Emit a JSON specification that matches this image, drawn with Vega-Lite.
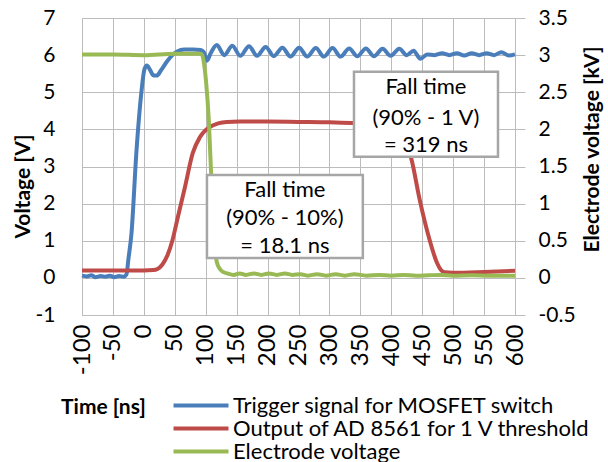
{
  "$schema": "https://vega.github.io/schema/vega-lite/v6.json",
  "width": 433,
  "height": 297,
  "autosize": {"type": "none"},
  "padding": {"left": 82, "top": 18, "right": 93, "bottom": 147},
  "background": "white",
  "config": {
    "view": {"stroke": null},
    "font": "Lato",
    "axis": {
      "labelFont": "Lato", "labelFontSize": 21, "labelColor": "#000000",
      "titleFont": "Lato", "titleFontSize": 21, "titleFontWeight": "bold", "titleColor": "#000000",
      "gridColor": "#bcbcbc", "gridWidth": 1, "domainColor": "#bcbcbc", "domainWidth": 1, "tickColor": "#bcbcbc"
    }
  },
  "datasets": {
    "lines": [
      {"t": -100, "v": 0.06, "s": "Trigger signal for MOSFET switch"},
      {"t": -92, "v": 0.04, "s": "Trigger signal for MOSFET switch"},
      {"t": -85, "v": 0.07, "s": "Trigger signal for MOSFET switch"},
      {"t": -78, "v": 0.02, "s": "Trigger signal for MOSFET switch"},
      {"t": -70, "v": 0.05, "s": "Trigger signal for MOSFET switch"},
      {"t": -62, "v": 0.03, "s": "Trigger signal for MOSFET switch"},
      {"t": -55, "v": 0.06, "s": "Trigger signal for MOSFET switch"},
      {"t": -48, "v": 0.02, "s": "Trigger signal for MOSFET switch"},
      {"t": -40, "v": 0.05, "s": "Trigger signal for MOSFET switch"},
      {"t": -33, "v": 0.03, "s": "Trigger signal for MOSFET switch"},
      {"t": -28, "v": 0.1, "s": "Trigger signal for MOSFET switch"},
      {"t": -25, "v": 0.5, "s": "Trigger signal for MOSFET switch"},
      {"t": -20, "v": 1.2, "s": "Trigger signal for MOSFET switch"},
      {"t": -12, "v": 3.4, "s": "Trigger signal for MOSFET switch"},
      {"t": -4, "v": 5.0, "s": "Trigger signal for MOSFET switch"},
      {"t": 1, "v": 5.62, "s": "Trigger signal for MOSFET switch"},
      {"t": 5, "v": 5.72, "s": "Trigger signal for MOSFET switch"},
      {"t": 10, "v": 5.6, "s": "Trigger signal for MOSFET switch"},
      {"t": 16, "v": 5.45, "s": "Trigger signal for MOSFET switch"},
      {"t": 21, "v": 5.45, "s": "Trigger signal for MOSFET switch"},
      {"t": 28, "v": 5.6, "s": "Trigger signal for MOSFET switch"},
      {"t": 37, "v": 5.82, "s": "Trigger signal for MOSFET switch"},
      {"t": 46, "v": 6.0, "s": "Trigger signal for MOSFET switch"},
      {"t": 54, "v": 6.1, "s": "Trigger signal for MOSFET switch"},
      {"t": 65, "v": 6.15, "s": "Trigger signal for MOSFET switch"},
      {"t": 80, "v": 6.15, "s": "Trigger signal for MOSFET switch"},
      {"t": 92, "v": 6.14, "s": "Trigger signal for MOSFET switch"},
      {"t": 97, "v": 6.08, "s": "Trigger signal for MOSFET switch"},
      {"t": 102, "v": 5.85, "s": "Trigger signal for MOSFET switch"},
      {"t": 108, "v": 6.05, "s": "Trigger signal for MOSFET switch"},
      {"t": 118, "v": 6.27, "s": "Trigger signal for MOSFET switch"},
      {"t": 130, "v": 6.0, "s": "Trigger signal for MOSFET switch"},
      {"t": 143, "v": 6.25, "s": "Trigger signal for MOSFET switch"},
      {"t": 156, "v": 5.98, "s": "Trigger signal for MOSFET switch"},
      {"t": 170, "v": 6.24, "s": "Trigger signal for MOSFET switch"},
      {"t": 183, "v": 5.98, "s": "Trigger signal for MOSFET switch"},
      {"t": 197, "v": 6.22, "s": "Trigger signal for MOSFET switch"},
      {"t": 210, "v": 5.97, "s": "Trigger signal for MOSFET switch"},
      {"t": 224, "v": 6.2, "s": "Trigger signal for MOSFET switch"},
      {"t": 237, "v": 5.96, "s": "Trigger signal for MOSFET switch"},
      {"t": 251, "v": 6.2, "s": "Trigger signal for MOSFET switch"},
      {"t": 264, "v": 5.96, "s": "Trigger signal for MOSFET switch"},
      {"t": 278, "v": 6.19, "s": "Trigger signal for MOSFET switch"},
      {"t": 291, "v": 5.96, "s": "Trigger signal for MOSFET switch"},
      {"t": 305, "v": 6.19, "s": "Trigger signal for MOSFET switch"},
      {"t": 318, "v": 5.96, "s": "Trigger signal for MOSFET switch"},
      {"t": 332, "v": 6.18, "s": "Trigger signal for MOSFET switch"},
      {"t": 345, "v": 5.97, "s": "Trigger signal for MOSFET switch"},
      {"t": 359, "v": 6.18, "s": "Trigger signal for MOSFET switch"},
      {"t": 372, "v": 5.97, "s": "Trigger signal for MOSFET switch"},
      {"t": 386, "v": 6.17, "s": "Trigger signal for MOSFET switch"},
      {"t": 399, "v": 5.98, "s": "Trigger signal for MOSFET switch"},
      {"t": 413, "v": 6.17, "s": "Trigger signal for MOSFET switch"},
      {"t": 425, "v": 6.0, "s": "Trigger signal for MOSFET switch"},
      {"t": 436, "v": 6.12, "s": "Trigger signal for MOSFET switch"},
      {"t": 447, "v": 5.9, "s": "Trigger signal for MOSFET switch"},
      {"t": 458, "v": 6.02, "s": "Trigger signal for MOSFET switch"},
      {"t": 470, "v": 6.0, "s": "Trigger signal for MOSFET switch"},
      {"t": 482, "v": 6.05, "s": "Trigger signal for MOSFET switch"},
      {"t": 494, "v": 6.0, "s": "Trigger signal for MOSFET switch"},
      {"t": 506, "v": 6.05, "s": "Trigger signal for MOSFET switch"},
      {"t": 518, "v": 5.99, "s": "Trigger signal for MOSFET switch"},
      {"t": 530, "v": 6.05, "s": "Trigger signal for MOSFET switch"},
      {"t": 542, "v": 6.0, "s": "Trigger signal for MOSFET switch"},
      {"t": 554, "v": 6.05, "s": "Trigger signal for MOSFET switch"},
      {"t": 566, "v": 6.0, "s": "Trigger signal for MOSFET switch"},
      {"t": 578, "v": 6.08, "s": "Trigger signal for MOSFET switch"},
      {"t": 590, "v": 5.99, "s": "Trigger signal for MOSFET switch"},
      {"t": 600, "v": 6.02, "s": "Trigger signal for MOSFET switch"},
      {"t": -100, "v": 0.2, "s": "Output of AD 8561 for 1 V threshold"},
      {"t": -50, "v": 0.2, "s": "Output of AD 8561 for 1 V threshold"},
      {"t": 0, "v": 0.2, "s": "Output of AD 8561 for 1 V threshold"},
      {"t": 15, "v": 0.21, "s": "Output of AD 8561 for 1 V threshold"},
      {"t": 22, "v": 0.24, "s": "Output of AD 8561 for 1 V threshold"},
      {"t": 30, "v": 0.36, "s": "Output of AD 8561 for 1 V threshold"},
      {"t": 38, "v": 0.6, "s": "Output of AD 8561 for 1 V threshold"},
      {"t": 46, "v": 1.0, "s": "Output of AD 8561 for 1 V threshold"},
      {"t": 55, "v": 1.64, "s": "Output of AD 8561 for 1 V threshold"},
      {"t": 66.5, "v": 2.45, "s": "Output of AD 8561 for 1 V threshold"},
      {"t": 79, "v": 3.36, "s": "Output of AD 8561 for 1 V threshold"},
      {"t": 91, "v": 3.8, "s": "Output of AD 8561 for 1 V threshold"},
      {"t": 107, "v": 4.07, "s": "Output of AD 8561 for 1 V threshold"},
      {"t": 120, "v": 4.16, "s": "Output of AD 8561 for 1 V threshold"},
      {"t": 134, "v": 4.2, "s": "Output of AD 8561 for 1 V threshold"},
      {"t": 155, "v": 4.21, "s": "Output of AD 8561 for 1 V threshold"},
      {"t": 200, "v": 4.21, "s": "Output of AD 8561 for 1 V threshold"},
      {"t": 250, "v": 4.2, "s": "Output of AD 8561 for 1 V threshold"},
      {"t": 300, "v": 4.19, "s": "Output of AD 8561 for 1 V threshold"},
      {"t": 336, "v": 4.17, "s": "Output of AD 8561 for 1 V threshold"},
      {"t": 380, "v": 4.16, "s": "Output of AD 8561 for 1 V threshold"},
      {"t": 405, "v": 4.14, "s": "Output of AD 8561 for 1 V threshold"},
      {"t": 413, "v": 4.05, "s": "Output of AD 8561 for 1 V threshold"},
      {"t": 420, "v": 3.8, "s": "Output of AD 8561 for 1 V threshold"},
      {"t": 433, "v": 3.17, "s": "Output of AD 8561 for 1 V threshold"},
      {"t": 446, "v": 2.1, "s": "Output of AD 8561 for 1 V threshold"},
      {"t": 462, "v": 1.02, "s": "Output of AD 8561 for 1 V threshold"},
      {"t": 474, "v": 0.4, "s": "Output of AD 8561 for 1 V threshold"},
      {"t": 480, "v": 0.22, "s": "Output of AD 8561 for 1 V threshold"},
      {"t": 486, "v": 0.15, "s": "Output of AD 8561 for 1 V threshold"},
      {"t": 500, "v": 0.14, "s": "Output of AD 8561 for 1 V threshold"},
      {"t": 550, "v": 0.16, "s": "Output of AD 8561 for 1 V threshold"},
      {"t": 600, "v": 0.19, "s": "Output of AD 8561 for 1 V threshold"}
    ],
    "electrode": [
      {"t": -100, "kv": 3.01, "s": "Electrode voltage"},
      {"t": -50, "kv": 3.01, "s": "Electrode voltage"},
      {"t": 0, "kv": 3.0, "s": "Electrode voltage"},
      {"t": 50, "kv": 3.02, "s": "Electrode voltage"},
      {"t": 90, "kv": 3.02, "s": "Electrode voltage"},
      {"t": 94, "kv": 3.01, "s": "Electrode voltage"},
      {"t": 97, "kv": 2.9, "s": "Electrode voltage"},
      {"t": 101, "kv": 2.6, "s": "Electrode voltage"},
      {"t": 105, "kv": 2.12, "s": "Electrode voltage"},
      {"t": 108.5, "kv": 1.45, "s": "Electrode voltage"},
      {"t": 112, "kv": 0.85, "s": "Electrode voltage"},
      {"t": 115, "kv": 0.42, "s": "Electrode voltage"},
      {"t": 118, "kv": 0.21, "s": "Electrode voltage"},
      {"t": 123, "kv": 0.12, "s": "Electrode voltage"},
      {"t": 128, "kv": 0.08, "s": "Electrode voltage"},
      {"t": 135, "kv": 0.06, "s": "Electrode voltage"},
      {"t": 145, "kv": 0.04, "s": "Electrode voltage"},
      {"t": 155, "kv": 0.06, "s": "Electrode voltage"},
      {"t": 165, "kv": 0.04, "s": "Electrode voltage"},
      {"t": 178, "kv": 0.06, "s": "Electrode voltage"},
      {"t": 190, "kv": 0.04, "s": "Electrode voltage"},
      {"t": 202, "kv": 0.06, "s": "Electrode voltage"},
      {"t": 215, "kv": 0.04, "s": "Electrode voltage"},
      {"t": 228, "kv": 0.06, "s": "Electrode voltage"},
      {"t": 240, "kv": 0.04, "s": "Electrode voltage"},
      {"t": 253, "kv": 0.05, "s": "Electrode voltage"},
      {"t": 265, "kv": 0.03, "s": "Electrode voltage"},
      {"t": 280, "kv": 0.05, "s": "Electrode voltage"},
      {"t": 295, "kv": 0.03, "s": "Electrode voltage"},
      {"t": 310, "kv": 0.05, "s": "Electrode voltage"},
      {"t": 325, "kv": 0.03, "s": "Electrode voltage"},
      {"t": 340, "kv": 0.05, "s": "Electrode voltage"},
      {"t": 360, "kv": 0.03, "s": "Electrode voltage"},
      {"t": 380, "kv": 0.04, "s": "Electrode voltage"},
      {"t": 400, "kv": 0.03, "s": "Electrode voltage"},
      {"t": 420, "kv": 0.04, "s": "Electrode voltage"},
      {"t": 440, "kv": 0.03, "s": "Electrode voltage"},
      {"t": 460, "kv": 0.035, "s": "Electrode voltage"},
      {"t": 480, "kv": 0.04, "s": "Electrode voltage"},
      {"t": 500, "kv": 0.03, "s": "Electrode voltage"},
      {"t": 530, "kv": 0.035, "s": "Electrode voltage"},
      {"t": 560, "kv": 0.03, "s": "Electrode voltage"},
      {"t": 600, "kv": 0.03, "s": "Electrode voltage"}
    ],
    "boxes": [
      {"t": 102, "t2": 354, "y1": 0.535, "y2": 2.77},
      {"t": 339.7, "t2": 572.5, "y1": 3.26, "y2": 5.55}
    ],
    "notes": [
      {"t": 228, "v": 2.37, "label": "Fall time"},
      {"t": 228, "v": 1.61, "label": "(90% - 10%)"},
      {"t": 228, "v": 0.86, "label": "= 18.1 ns"},
      {"t": 456, "v": 5.14, "label": "Fall time"},
      {"t": 456, "v": 4.31, "label": "(90% - 1 V)"},
      {"t": 456, "v": 3.58, "label": "= 319 ns"}
    ]
  },
  "encoding": {
    "x": {
      "field": "t", "type": "quantitative",
      "scale": {"domain": [-100, 600], "nice": false, "zero": false},
      "axis": {
        "title": "Time [ns]",
        "values": [-100, -50, 0, 50, 100, 150, 200, 250, 300, 350, 400, 450, 500, 550, 600],
        "labelExpr": "'' + datum.value",
        "labelFontSize": 24,
        "grid": true, "ticks": false, "labelAngle": 270, "labelPadding": 9,
        "labelFlush": false, "labelOverlap": false,
        "titleX": 21, "titleY": 92, "titleAlign": "center", "titleBaseline": "middle"
      }
    }
  },
  "layer": [
    {
      "data": {"name": "lines"},
      "mark": {"type": "line", "interpolate": "monotone", "strokeWidth": 4},
      "encoding": {
        "y": {
          "field": "v", "type": "quantitative",
          "scale": {"domain": [-1, 7], "nice": false, "zero": false},
          "axis": {
            "title": "Voltage [V]",
            "values": [-1, 0, 1, 2, 3, 4, 5, 6, 7],
            "labelExpr": "'' + datum.value",
            "grid": true, "ticks": false, "labelPadding": 27,
            "labelFlush": false, "labelOverlap": false,
            "titleAngle": 270, "titleX": -59, "titleY": 168, "titleAlign": "center", "titleBaseline": "middle"
          }
        },
        "color": {
          "field": "s", "type": "nominal",
          "scale": {
            "domain": ["Trigger signal for MOSFET switch", "Output of AD 8561 for 1 V threshold", "Electrode voltage"],
            "range": ["#4a7ebb", "#be4b48", "#98b954"]
          },
          "legend": {
            "orient": "none", "legendX": 108, "legendY": 376.5, "title": null,
            "symbolType": "M-5,0H5", "symbolSize": 121, "symbolStrokeWidth": 4,
            "labelFont": "Lato", "labelFontSize": 22, "labelColor": "#000000",
            "labelOffset": 21, "rowPadding": 1, "padding": 0, "labelLimit": 500
          }
        }
      }
    },
    {
      "data": {"name": "electrode"},
      "mark": {"type": "line", "interpolate": "monotone", "strokeWidth": 4},
      "encoding": {
        "y": {
          "field": "kv", "type": "quantitative",
          "scale": {"domain": [-0.5, 3.5], "nice": false, "zero": false},
          "axis": {
            "orient": "right",
            "title": "Electrode voltage [kV]",
            "values": [-0.5, 0, 0.5, 1, 1.5, 2, 2.5, 3, 3.5],
            "labelExpr": "'' + datum.value",
            "grid": false, "ticks": true, "tickSize": 10, "labelPadding": 13,
            "labelFlush": false, "labelOverlap": false,
            "titleAngle": 270, "titleX": 77, "titleY": 131, "titleAlign": "center", "titleBaseline": "middle"
          }
        },
        "color": {"field": "s", "type": "nominal"}
      }
    },
    {
      "layer": [
        {
          "data": {"name": "boxes"},
          "mark": {"type": "rect", "fill": "#ffffff", "stroke": "#a6a6a6", "strokeWidth": 2.5},
          "encoding": {
            "x2": {"field": "t2"},
            "y": {"field": "y1", "type": "quantitative", "scale": {"domain": [-1, 7], "nice": false, "zero": false}, "axis": null},
            "y2": {"field": "y2"}
          }
        },
        {
          "data": {"name": "notes"},
          "mark": {"type": "text", "font": "Lato", "fontSize": 22, "color": "#000000", "align": "center", "baseline": "middle"},
          "encoding": {
            "y": {"field": "v", "type": "quantitative", "scale": {"domain": [-1, 7], "nice": false, "zero": false}, "axis": null},
            "text": {"field": "label"}
          }
        }
      ]
    }
  ],
  "resolve": {"scale": {"y": "independent"}}
}
